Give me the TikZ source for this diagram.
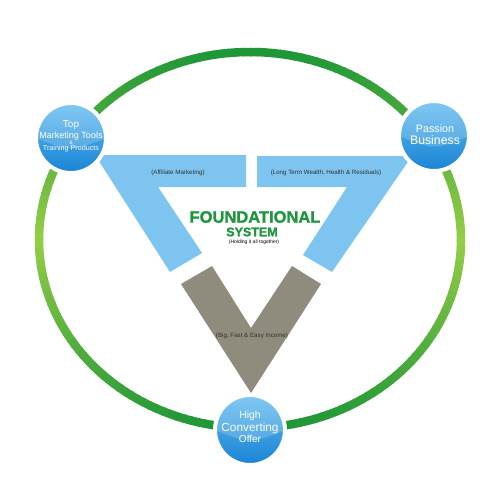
\documentclass[tikz,border=0pt]{standalone}
\usepackage{fontspec}
\setmainfont{Liberation Sans}
\newfontfamily\heavyfont{Liberation Sans Bold}[FakeBold=1.2]
\usetikzlibrary{positioning}
\definecolor{ringdark}{RGB}{30,150,55}
\definecolor{ringlight}{RGB}{150,205,70}
\definecolor{legblue}{RGB}{125,196,240}
\definecolor{leggray}{RGB}{143,140,125}
\definecolor{balltop}{RGB}{100,188,240}
\definecolor{ballbot}{RGB}{25,132,212}
\definecolor{titlegreen}{RGB}{30,150,60}
\tikzset{
  ball/.style = {circle, draw=white, line width=4pt, minimum size=70pt,
    inner sep=0pt, top color=balltop, bottom color=ballbot,
    path picture={\fill[white,opacity=0.18] (path picture bounding box.west)
      .. controls ([yshift=-14pt]path picture bounding box.center) ..
      (path picture bounding box.east) -- (path picture bounding box.north east)
      -- (path picture bounding box.north west) -- cycle;}},% boule bleue
  balltext/.style = {text=white, inner sep=0pt},
  legtext/.style = {inner sep=0pt, text=black!80, font=\fontsize{6.2}{7}\selectfont},
  ring/.style = {line width=8.5pt},
}

\begin{document}
\begin{tikzpicture}[x=1pt,y=-1pt]
  \useasboundingbox (0,0) rectangle (500,500);
%   green ring
  \foreach \a in {0,2,...,358}{
    \pgfmathtruncatemacro{\p}{100*abs(sin(\a+1))}
    \draw[ring, draw=ringdark!\p!ringlight] plot[domain=\a:\a+2.4, samples=4]
      ({250+211*cos(\x)},{240+188*sin(\x)});
  }
%   blue legs
  \fill[legblue] (95,155) -- (246,155) -- (246,187) -- (158,187) -- (202,253)
    -- (170,272) -- cycle;
  \fill[legblue] (257,156) -- (412,156) -- (332,272) -- (303,255) -- (347,187)
    -- (257,187) -- cycle;
%   gray V
  \fill[leggray] (181,284) -- (212,266) -- (251,328) -- (292,266) -- (321,284)
    -- (251,393) -- cycle;

  \node[legtext] (aff) at (178,173) {(Affiliate Marketing)};
  \node[legtext] (long) at (326,173) {(Long Term Wealth, Health \& Residuals)};
  \node[legtext] (big) at (252,336) {(Big, Fast \& Easy Income)};

  \node[inner sep=0pt, text=titlegreen, font=\fontsize{16.5}{18}\heavyfont]
    (found) at (255,217) {FOUNDATIONAL};
  \node[inner sep=0pt, text=titlegreen, font=\fontsize{12.5}{15}\heavyfont]
    (sys) at (252,232) {SYSTEM};
  \node[inner sep=0pt, font=\fontsize{5}{6}\selectfont] (hold) at (254,242.5)
    {(Holding it all together)};

%   balls
  \node[ball] (top) at (71,138) {};
  \node[ball] (pass) at (434,136) {};
  \node[ball] (high) at (250,430) {};

  \node[balltext, font=\fontsize{10}{12}\selectfont] (t1) at (71,125) {Top};
  \node[balltext, font=\fontsize{9}{11}\selectfont] (t2) at (71,136) {Marketing Tools};
  \node[balltext, font=\fontsize{5}{6}\selectfont] (t3) at (71,142.5) {\&};
  \node[balltext, font=\fontsize{7.2}{9}\selectfont] (t4) at (71,148.5) {Training Products};

  \node[balltext, font=\fontsize{10.7}{12}\selectfont] (p1) at (435,129) {Passion};
  \node[balltext, font=\fontsize{12.3}{14}\selectfont] (p2) at (435,140.5) {Business};

  \node[balltext, font=\fontsize{10.3}{12}\selectfont] (h1) at (250,416) {High};
  \node[balltext, font=\fontsize{11.8}{14}\selectfont] (h2) at (250,428) {Converting};
  \node[balltext, font=\fontsize{10}{12}\selectfont] (h3) at (250,438.5) {Offer};
\end{tikzpicture}
\end{document}
